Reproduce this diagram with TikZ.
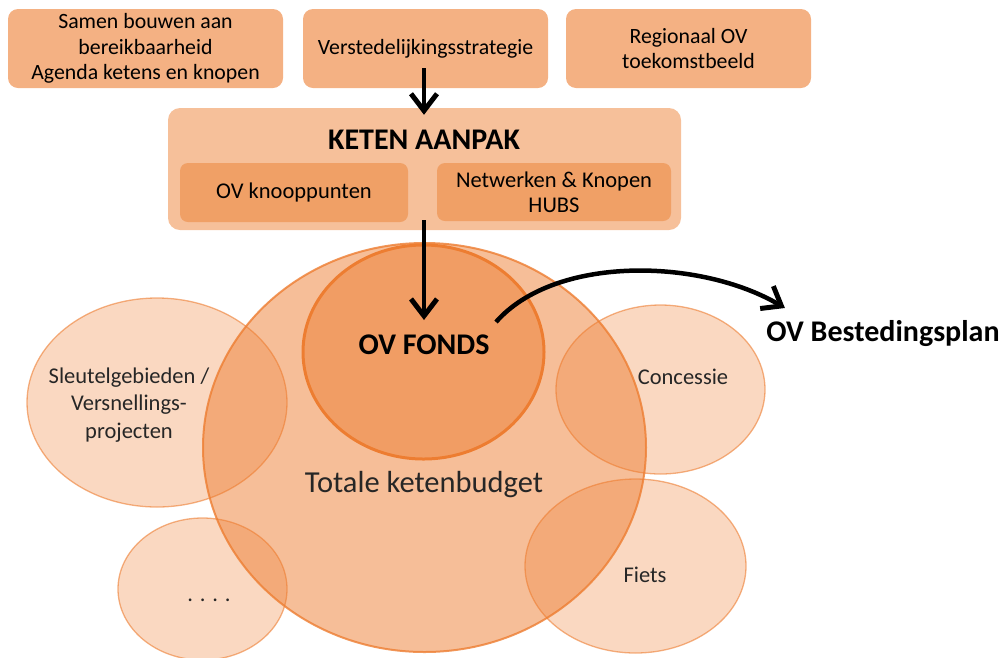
\documentclass[tikz,border=0pt]{standalone}
\usepackage{fontspec}
\setmainfont{Carlito}
\usetikzlibrary{arrows.meta,shapes.geometric}
\tikzset{>={Straight Barb[length=17pt,width=26pt,line width=0pt 1.1]}}
\definecolor{boxorange}{RGB}{244,177,131}
\definecolor{ketenfill}{RGB}{246,192,154}
\definecolor{innerfill}{RGB}{240,160,102}
\definecolor{rimorange}{RGB}{237,125,49}

\begin{document}
\begin{tikzpicture}[x=1pt,y=-1pt,
    box/.style={fill=boxorange,rounded corners=10pt,align=center,inner sep=0pt,font=\fontsize{21.8}{25.5}\selectfont},
    subbox/.style={fill=innerfill,rounded corners=8pt,align=center,inner sep=0pt,font=\fontsize{22.5}{25}\selectfont},
    bubble/.style={ellipse,inner sep=0pt,draw=rimorange,draw opacity=0.6,line width=1.3pt,fill=rimorange,fill opacity=0.3},
    txt/.style={align=center,font=\fontsize{22.5}{27.5}\selectfont,text=black!85},
    bold/.style={font=\bfseries\fontsize{30}{34}\selectfont},
    arr/.style={->,line width=4.5pt}]
  \useasboundingbox (0,0) rectangle (1008,657);
  % sources
  \node[box,minimum width=275pt,minimum height=79pt] (samen) at (145.5,48.5) {Samen bouwen aan\\bereikbaarheid\\Agenda ketens en knopen};
  \node[box,minimum width=245pt,minimum height=79pt] (verst) at (425.5,48.5) {Verstedelijkingsstrategie};
  \node[box,minimum width=245pt,minimum height=79pt] (regio) at (688.5,48.5) {Regionaal OV\\toekomstbeeld};
  % keten aanpak
  \node[fill=ketenfill,rounded corners=12pt,minimum width=513pt,minimum height=122pt] (keten) at (424.5,169) {};
  \node[bold] (ketentitle) at (424,140) {KETEN AANPAK};
  \node[subbox,minimum width=228pt,minimum height=59pt] (knoop) at (294,192.5) {OV knooppunten};
  \node[subbox,minimum width=234pt,minimum height=58pt] (netw) at (554,192) {Netwerken \& Knopen\\HUBS};
  % budget
  \node[ellipse,inner sep=0pt,minimum width=443pt,minimum height=409pt,draw=rimorange,draw opacity=0.8,line width=2pt,fill=rimorange,fill opacity=0.5] (budget) at (424.5,447.5) {};
  \node[ellipse,inner sep=0pt,minimum width=241pt,minimum height=214pt,draw=rimorange,line width=3pt,fill=rimorange,fill opacity=0.5] (fonds) at (423.5,352) {};
  \node[bubble,minimum width=260pt,minimum height=209pt] (sleutel) at (157,402.5) {};
  \node[bubble,minimum width=169pt,minimum height=142pt] (overig) at (202.5,589) {};
  \node[bubble,minimum width=209pt,minimum height=169pt] (conc) at (660.5,389.5) {};
  \node[bubble,minimum width=221pt,minimum height=174pt] (fiets) at (635.5,566) {};
  % labels
  \node[bold] (fondstxt) at (424,345) {OV FONDS};
  \node[txt,font=\fontsize{30.5}{34}\selectfont] (budgettxt) at (424,485) {Totale ketenbudget};
  \node[txt] (sleuteltxt) at (129,405) {Sleutelgebieden /\\Versnellings-\\projecten};
  \node[txt] (overigtxt) at (209,600) {. . . .};
  \node[txt] (conctxt) at (683,377) {Concessie};
  \node[txt] (fietstxt) at (645,575) {Fiets};
  \node[bold] (plan) at (883,334) {OV Bestedingsplan};
  % arrows
  \draw[arr] ([yshift=20pt]verst.south -| ketentitle.north) -- ([yshift=-7pt]keten.north -| ketentitle.north);
  \draw[arr] ([yshift=10pt]keten.south -| ketentitle.north) -- ([yshift=32pt]fonds.center -| ketentitle.north);
  \draw[arr] ([shift={(72.5pt,30pt)}]fonds.center) .. controls (555,255) and (700,258) .. ([shift={(22pt,26pt)}]plan.west);
\end{tikzpicture}
\end{document}
